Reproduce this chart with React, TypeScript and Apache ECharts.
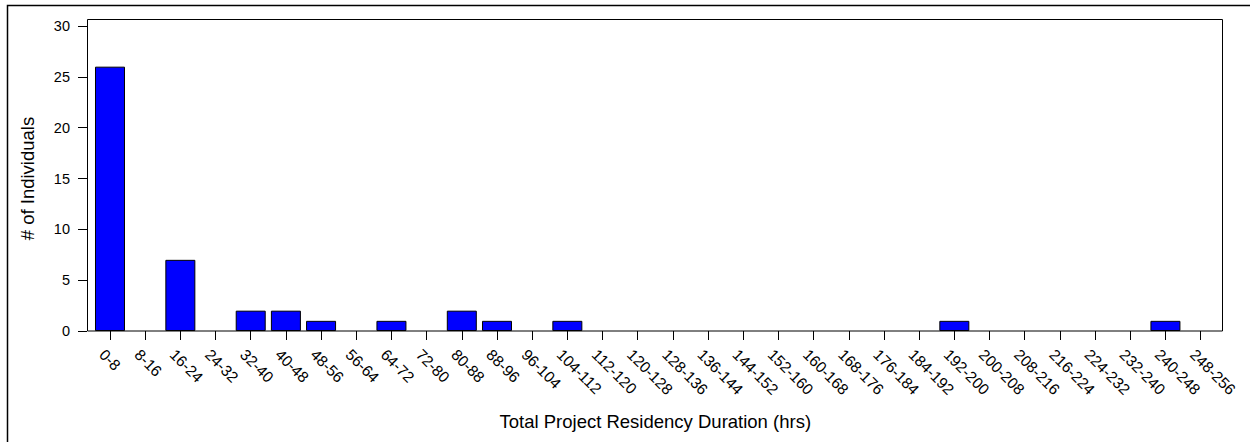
import React, { useEffect, useRef } from "react";
import * as echarts from "echarts";

const categories = [
  "0-8", "8-16", "16-24", "24-32", "32-40", "40-48", "48-56", "56-64",
  "64-72", "72-80", "80-88", "88-96", "96-104", "104-112", "112-120", "120-128",
  "128-136", "136-144", "144-152", "152-160", "160-168", "168-176", "176-184", "184-192",
  "192-200", "200-208", "208-216", "216-224", "224-232", "232-240", "240-248", "248-256",
];

const individuals = [
  26, 0, 7, 0, 2, 2, 1, 0,
  1, 0, 2, 1, 0, 1, 0, 0,
  0, 0, 0, 0, 0, 0, 0, 0,
  1, 0, 0, 0, 0, 0, 1, 0,
];

const yMin = 0;
const yMax = 30;
const yStep = 5;

const xTitle = "Total Project Residency Duration (hrs)";
const yTitle = "# of Individuals";

const FONT = '"Liberation Sans", Arial, sans-serif';

export default function App() {
  const ref = useRef<HTMLDivElement>(null);

  useEffect(() => {
    if (!ref.current) return;
    const chart = echarts.init(ref.current, null, { renderer: "svg" });
    const gridLeft = 92.4;
    const gridTop = 26;
    const gridWidth = 1125.8;
    const gridHeight = 305;
    const barData = individuals.map((v) =>
      v === 0 ? { value: v, itemStyle: { borderWidth: 0 } } : { value: v }
    );
    chart.setOption({
      animation: false,
      backgroundColor: "#ffffff",
      textStyle: { fontFamily: FONT },
      grid: {
        left: gridLeft,
        top: gridTop,
        width: gridWidth,
        height: gridHeight,
        containLabel: false,
      },
      graphic: [
        {
          type: "rect",
          silent: true,
          shape: { x: 7.5, y: 5.5, width: 1300, height: 500 },
          style: { fill: "none", stroke: "#000", lineWidth: 1.5 },
          z: 100,
        },
        {
          type: "rect",
          silent: true,
          shape: { x: 87.5, y: 19.5, width: 1135, height: 311.5 },
          style: { fill: "none", stroke: "#000", lineWidth: 1 },
          z: 100,
        },
      ],
      xAxis: {
        type: "category",
        data: categories,
        boundaryGap: true,
        name: xTitle,
        nameLocation: "middle",
        nameGap: 81,
        nameTextStyle: { fontSize: 18.5, color: "#000", fontFamily: FONT },
        axisLine: { show: false },
        axisTick: {
          show: true,
          alignWithLabel: true,
          length: 9,
          lineStyle: { color: "#000", width: 1 },
        },
        axisLabel: {
          interval: 0,
          rotate: -45,
          align: "left",
          verticalAlign: "top",
          margin: 13,
          padding: [3, 0, 0, 0],
          fontSize: 15.5,
          color: "#000",
          fontFamily: FONT,
        },
        splitLine: { show: false },
      },
      yAxis: {
        type: "value",
        min: yMin,
        max: yMax,
        interval: yStep,
        offset: 5.4,
        name: yTitle,
        nameLocation: "middle",
        nameGap: 50,
        nameRotate: 90,
        nameTextStyle: { fontSize: 18.5, color: "#000", fontFamily: FONT },
        axisLine: { show: false },
        axisTick: { show: true, length: 9, lineStyle: { color: "#000", width: 1 } },
        axisLabel: { margin: 17, fontSize: 14.5, color: "#000", fontFamily: FONT },
        splitLine: { show: false },
      },
      series: [
        {
          type: "bar",
          data: barData,
          barWidth: 30,
          itemStyle: { color: "#0000ff", borderColor: "#000", borderWidth: 1 },
        },
      ],
    });
    return () => chart.dispose();
  }, []);

  return (
    <div
      ref={ref}
      style={{ position: "absolute", left: 0, top: 0, width: 1250, height: 442, background: "#fff" }}
    />
  );
}
